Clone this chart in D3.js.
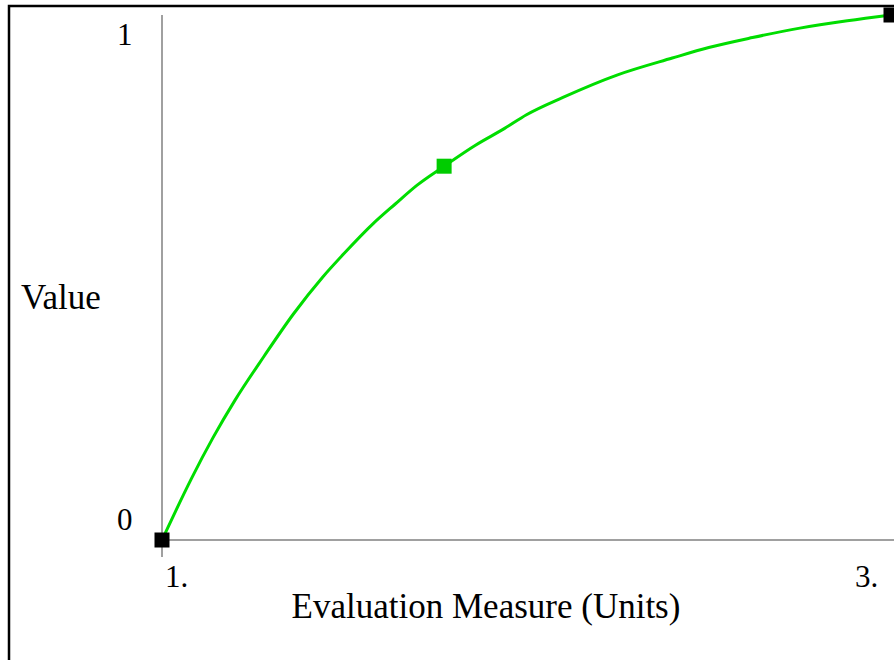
<!DOCTYPE html>
<html><head><meta charset="utf-8">
<script src="https://cdn.jsdelivr.net/npm/d3@7"></script>
<style>html,body{margin:0;padding:0;background:#fff;}svg{display:block;}</style>
</head><body>
<svg id="c" width="894" height="660"></svg>
<script>
const curveX = [1.00, 1.04, 1.08, 1.14, 1.20, 1.28, 1.36, 1.44, 1.50, 1.58, 1.64, 1.70, 1.774, 1.86, 1.94, 2.00, 2.10, 2.25, 2.40, 2.50, 2.62, 2.75, 2.88, 3.00];
const curveY = [0.000, 0.059, 0.116, 0.195, 0.266, 0.350, 0.430, 0.500, 0.546, 0.603, 0.640, 0.676, 0.712, 0.752, 0.784, 0.810, 0.843, 0.886, 0.918, 0.938, 0.957, 0.975, 0.989, 1.000];
const markerX = [1.0, 1.774, 3.0];
const markerY = [0.0, 0.712, 1.0];
const markerFill = ["#000000", "#00cc00", "#000000"];
const xTicks = [1, 3];
const xTickLabels = ["1.", "3."];
const yTicks = [0, 1];
const yTickLabels = ["0", "1"];
const xTitle = "Evaluation Measure (Units)";
const yTitle = "Value";

const svg = d3.select("#c");
const x = d3.scaleLinear().domain([1, 3]).range([162, 891]);
const y = d3.scaleLinear().domain([0, 1]).range([540, 15]);
const font = "'Liberation Serif', 'Times New Roman', serif";

// frame
svg.append("path").attr("d", "M9,660 V6 H894").attr("fill", "none").attr("stroke", "#000").attr("stroke-width", 2.5);

// axes
svg.append("line").attr("x1", x(1)).attr("x2", 894).attr("y1", y(0)).attr("y2", y(0)).attr("stroke", "#808080").attr("stroke-width", 1.5);
svg.append("line").attr("x1", x(1)).attr("x2", x(1)).attr("y1", y(1)).attr("y2", y(0) + 17).attr("stroke", "#808080").attr("stroke-width", 1.5);

// tick labels
svg.selectAll(".xt").data(xTicks).enter().append("text")
  .attr("x", (d, i) => i === 0 ? x(d) + 3 : x(d) - 36)
  .attr("y", y(0) + 47)
  .attr("font-family", font).attr("font-size", 31).attr("fill", "#000")
  .text((d, i) => xTickLabels[i]);
svg.selectAll(".yt").data(yTicks).enter().append("text")
  .attr("x", 117)
  .attr("y", (d, i) => i === 0 ? y(d) - 10 : y(d) + 30)
  .attr("font-family", font).attr("font-size", 31).attr("fill", "#000")
  .text((d, i) => yTickLabels[i]);

// titles
svg.append("text").attr("x", 486).attr("y", 618).attr("text-anchor", "middle")
  .attr("font-family", font).attr("font-size", 35).attr("fill", "#000").text(xTitle);
svg.append("text").attr("x", 21).attr("y", 309)
  .attr("font-family", font).attr("font-size", 35).attr("fill", "#000").text(yTitle);

// curve
const pts = curveX.map((d, i) => [d, curveY[i]]);
svg.append("path").datum(pts)
  .attr("d", d3.line().x(d => x(d[0])).y(d => y(d[1])).curve(d3.curveMonotoneX))
  .attr("fill", "none").attr("stroke", "#00dd00").attr("stroke-width", 3);

// markers
const s = 15;
svg.selectAll(".mk").data(markerX).enter().append("rect")
  .attr("x", d => x(d) - s / 2).attr("y", (d, i) => y(markerY[i]) - s / 2)
  .attr("width", s).attr("height", s)
  .attr("fill", (d, i) => markerFill[i]);
</script>
</body></html>
